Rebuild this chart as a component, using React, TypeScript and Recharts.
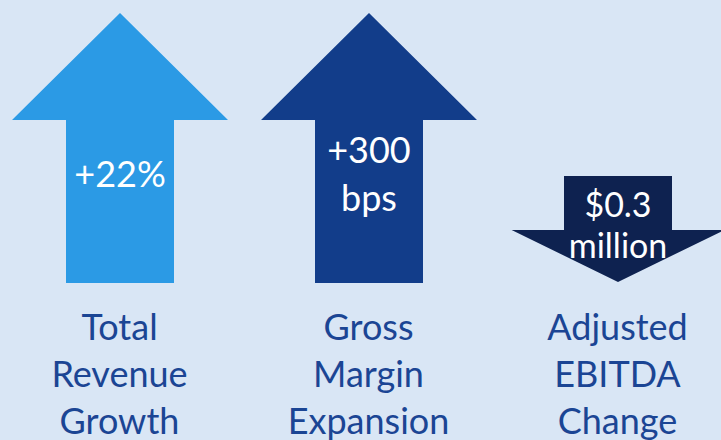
import React from 'react';
import { BarChart, Bar, XAxis, YAxis } from 'recharts';

// metrics shown as arrows
const categories = ['Total Revenue Growth', 'Gross Margin Expansion', 'Adjusted EBITDA Change'];
const valueLines = [['+22%'], ['+300', 'bps'], ['$0.3', 'million']];
const directions = ['up', 'up', 'down'];
// arrow extent on the hidden value axis: [tail, tip]
const arrowTail = [1, 1, 108];
const arrowTip = [271, 271, 2];
const colors = ['#2b9ae5', '#123d8a', '#0e2250'];

const data = categories.map((name, i) => ({
  name,
  lines: valueLines[i],
  direction: directions[i],
  span: [Math.min(arrowTail[i], arrowTip[i]), Math.max(arrowTail[i], arrowTip[i])],
  color: colors[i],
}));

const FONT = 'Lato, "Open Sans", sans-serif';

const ArrowShape = (props: any) => {
  const { x, y, width, height, payload } = props;
  const top = Math.min(y, y + height);
  const bottom = Math.max(y, y + height);
  const cx = x + width / 2;
  const shaft = width / 2;
  let points = '';
  let anchor = 0;
  let step = 48;
  let fontSize = 36;
  if (payload.direction === 'up') {
    const headHalf = width;
    const headH = 107;
    points = [
      [cx, top],
      [cx + headHalf, top + headH],
      [cx + shaft, top + headH],
      [cx + shaft, bottom],
      [cx - shaft, bottom],
      [cx - shaft, top + headH],
      [cx - headHalf, top + headH],
    ].map((p) => p.join(',')).join(' ');
    anchor = top + 174;
  } else {
    const headHalf = width * 0.985;
    const headH = 52;
    points = [
      [cx - shaft, top],
      [cx + shaft, top],
      [cx + shaft, bottom - headH],
      [cx + headHalf, bottom - headH],
      [cx, bottom],
      [cx - headHalf, bottom - headH],
      [cx - shaft, bottom - headH],
    ].map((p) => p.join(',')).join(' ');
    anchor = top + 61;
    step = 41;
    fontSize = 34;
  }
  const n = payload.lines.length;
  return (
    <g>
      <polygon points={points} fill={payload.color} />
      {payload.lines.map((line: string, i: number) => (
        <text
          key={i}
          x={cx}
          y={anchor + (i - (n - 1) / 2) * step}
          textAnchor="middle"
          fill="#ffffff"
          fontFamily={FONT}
          fontSize={fontSize}
        >
          {line}
        </text>
      ))}
    </g>
  );
};

const CategoryTick = (props: any) => {
  const { x, y, payload } = props;
  const words = String(payload.value).split(' ');
  return (
    <g>
      {words.map((w, i) => (
        <text
          key={i}
          x={x}
          y={y + 56 + i * 47}
          textAnchor="middle"
          fill="#1b4594"
          fontFamily={FONT}
          fontSize={36}
        >
          {w}
        </text>
      ))}
    </g>
  );
};

export default function App() {
  return (
    <div
      style={{
        position: 'absolute',
        left: 0,
        top: 0,
        width: 721,
        height: 440,
        overflow: 'hidden',
        background: '#d9e6f5',
      }}
    >
      <div style={{ position: 'absolute', left: -5, top: 0 }}>
        <BarChart width={747} height={440} data={data} margin={{ top: 0, right: 0, bottom: 0, left: 0 }}>
          <XAxis
            dataKey="name"
            height={156}
            axisLine={false}
            tickLine={false}
            tickSize={0}
            tickMargin={0}
            interval={0}
            tick={<CategoryTick />}
          />
          <YAxis hide domain={[0, 284]} />
          <Bar dataKey="span" barSize={108} shape={<ArrowShape />} isAnimationActive={false} />
        </BarChart>
      </div>
    </div>
  );
}
